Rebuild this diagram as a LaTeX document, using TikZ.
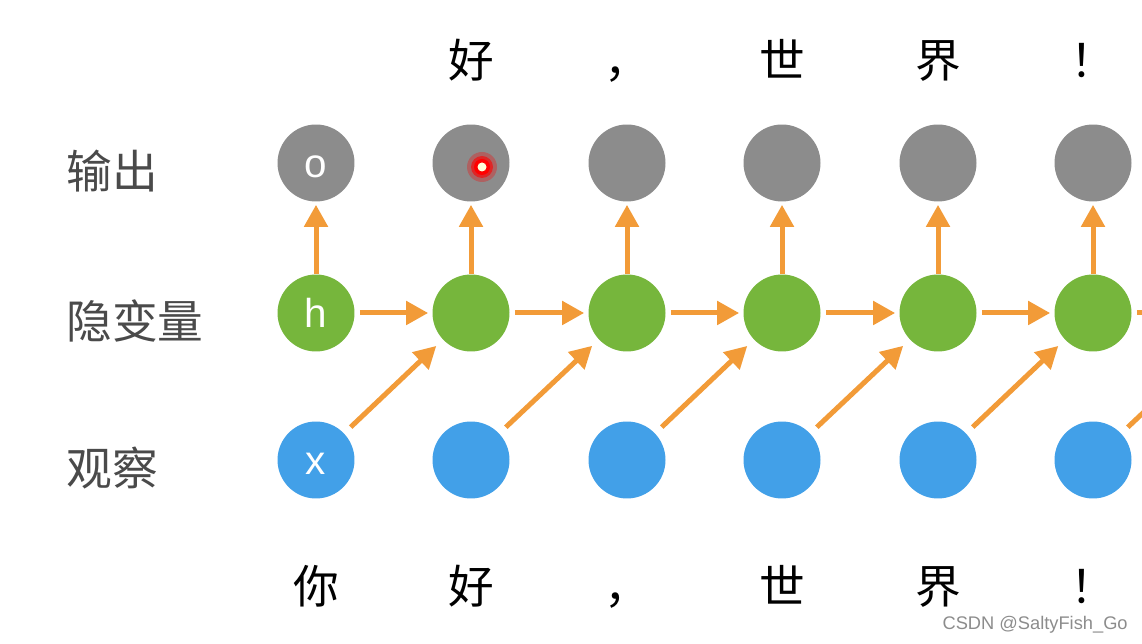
\documentclass[tikz,border=0pt]{standalone}
\usepackage{fontspec}
\newfontfamily\cjk{Noto Sans CJK SC}
\newfontfamily\lat{Liberation Sans}
\usetikzlibrary{arrows.meta}
\definecolor{grigio}{HTML}{8C8C8C}
\definecolor{verde}{HTML}{76B63C}
\definecolor{blu}{HTML}{42A0E8}
\definecolor{arancio}{HTML}{F29B38}
\definecolor{scuro}{HTML}{4A4A4A}
\tikzset{
  uscita/.style  = {circle, fill=grigio, minimum size=1.54cm, inner sep=0, text=white, text height=0.58cm, text depth=0, font=\lat\fontsize{23}{23}\selectfont},
  stato/.style   = {uscita, fill=verde},
  osserv/.style  = {uscita, fill=blu},
  freccia/.style = {line width=0.1cm, draw=arancio, -{Triangle[length=0.44cm,width=0.46cm]}},
  et/.style      = {inner sep=0, text height=0.88em, text depth=0.12em, font=\cjk\fontsize{26}{26}\selectfont},
  riga/.style    = {et, anchor=west, text=scuro}
}

\begin{document}
\begin{tikzpicture}[x=0.02cm, y=-0.02cm]
  \clip (0,0) rectangle (1142,644);

  % righe
  \node[riga] (lo) at (66,182) {输出};
  \node[riga] (lh) at (66,332) {隐变量};
  \node[riga] (lx) at (66,479) {观察};

  % uscita (6)
  \node[uscita] (o1) at (316,163) {o};
  \node[uscita] (o2) at (471,163) {};
  \node[uscita] (o3) at (627,163) {};
  \node[uscita] (o4) at (782,163) {};
  \node[uscita] (o5) at (938,163) {};
  \node[uscita] (o6) at (1093,163) {};

  % stato (6 + 1 fuori)
  \node[stato] (h1) at (316,313) {h};
  \node[stato] (h2) at (471,313) {};
  \node[stato] (h3) at (627,313) {};
  \node[stato] (h4) at (782,313) {};
  \node[stato] (h5) at (938,313) {};
  \node[stato] (h6) at (1093,313) {};
  \coordinate (h7) at (1249,313);

  % osservazione (6)
  \node[osserv] (x1) at (316,460) {x};
  \node[osserv] (x2) at (471,460) {};
  \node[osserv] (x3) at (627,460) {};
  \node[osserv] (x4) at (782,460) {};
  \node[osserv] (x5) at (938,460) {};
  \node[osserv] (x6) at (1093,460) {};

  % alto (5)
  \node[et] (t2) at (471,71) {好};
  \node[et] (t3) at (627,71) {，};
  \node[et] (t4) at (782,71) {世};
  \node[et] (t5) at (938,71) {界};
  \node[et] (t6) at (1093,71) {！};

  % basso (6)
  \node[et] (b1) at (316,597) {你};
  \node[et] (b2) at (471,597) {好};
  \node[et] (b3) at (627,597) {，};
  \node[et] (b4) at (782,597) {世};
  \node[et] (b5) at (938,597) {界};
  \node[et] (b6) at (1093,597) {！};

  % verticali
  \draw[freccia, shorten >=0.06cm] (h1)--(o1); \draw[freccia, shorten >=0.06cm] (h2)--(o2);
  \draw[freccia, shorten >=0.06cm] (h3)--(o3); \draw[freccia, shorten >=0.06cm] (h4)--(o4);
  \draw[freccia, shorten >=0.06cm] (h5)--(o5); \draw[freccia, shorten >=0.06cm] (h6)--(o6);

  % orizzontali
  \draw[freccia, shorten <=0.1cm, shorten >=0.08cm] (h1)--(h2); \draw[freccia, shorten <=0.1cm, shorten >=0.08cm] (h2)--(h3);
  \draw[freccia, shorten <=0.1cm, shorten >=0.08cm] (h3)--(h4); \draw[freccia, shorten <=0.1cm, shorten >=0.08cm] (h4)--(h5);
  \draw[freccia, shorten <=0.1cm, shorten >=0.08cm] (h5)--(h6); \draw[freccia, shorten <=0.1cm, shorten >=0.08cm] (h6)--(h7);

  % diagonali
  \draw[freccia, shorten <=0.18cm, shorten >=0.18cm] (x1)--(h2); \draw[freccia, shorten <=0.18cm, shorten >=0.18cm] (x2)--(h3);
  \draw[freccia, shorten <=0.18cm, shorten >=0.18cm] (x3)--(h4); \draw[freccia, shorten <=0.18cm, shorten >=0.18cm] (x4)--(h5);
  \draw[freccia, shorten <=0.18cm, shorten >=0.18cm] (x5)--(h6); \draw[freccia, shorten <=0.18cm, shorten >=0.18cm] (x6)--(h7);

  % puntatore
  \fill[red, opacity=0.3] (482,167) circle [radius=0.3cm];
  \fill[red, opacity=0.6] (482,167) circle [radius=0.22cm];
  \fill[red] (482,167) circle [radius=0.16cm];
  \fill[white!85!yellow] (482,167) circle [radius=0.09cm];

  % firma
  \node[inner sep=0, anchor=east, text=grigio, font=\lat\fontsize{10.4}{12}\selectfont] (firma) at (1128,625) {CSDN @SaltyFish\_Go};
\end{tikzpicture}
\end{document}
